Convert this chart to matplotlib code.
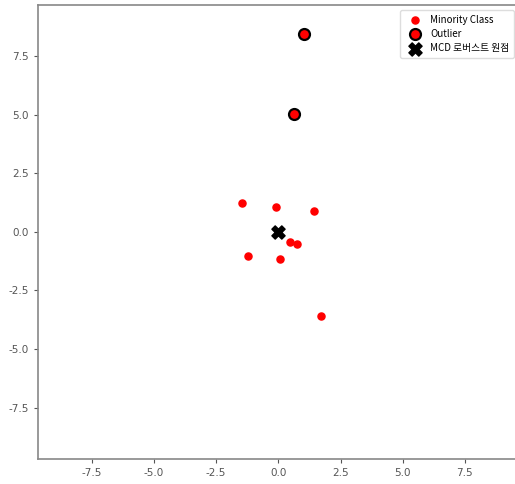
import numpy as np
import matplotlib
matplotlib.use('Agg')
import matplotlib.pyplot as plt

## Data
minority_x = [-1.45, -0.09, 1.44, 0.48, 0.76, -1.21, 0.07, 1.72, 0.62, 1.03]
minority_y = [1.25, 1.08, 0.90, -0.43, -0.53, -1.05, -1.14, -3.57, 5.04, 8.44]
outlier_x = [0.62, 1.03]
outlier_y = [5.04, 8.44]
mcd_center = [0.0, 0.0]
lim = 9.68
ticks = [-7.5, -5.0, -2.5, 0.0, 2.5, 5.0, 7.5]

##Main
plt.rcParams['axes.unicode_minus'] = False
fig = plt.figure(figsize=(5.15, 4.84), dpi=100)
ax = fig.add_axes([0.073, 0.052, 0.935, 0.938])

ax.scatter(minority_x, minority_y, s=26, c='red', zorder=3, label='Minority Class')
ax.scatter(outlier_x, outlier_y, s=62, c='red', edgecolors='black', linewidths=1.6,
           zorder=4, label='Outlier')
ax.scatter([mcd_center[0]], [mcd_center[1]], s=90, c='black', marker='X', zorder=5,
           label='MCD 로버스트 원점')

ax.set_xlim(-lim, lim)
ax.set_ylim(-lim, lim)
ax.set_xticks(ticks)
ax.set_yticks(ticks)
ax.tick_params(labelsize=7.5, colors='#555555', length=3)
for sp in ax.spines.values():
    sp.set_color('#888888')
    sp.set_linewidth(1.2)

leg = ax.legend(loc='upper right', prop={'family': ['Noto Sans CJK KR', 'DejaVu Sans'], 'size': 7},
                handletextpad=0.6, borderpad=0.5, labelspacing=0.45, framealpha=1)
leg.get_frame().set_edgecolor('#dddddd')

fig.savefig('out.png', dpi=100)
